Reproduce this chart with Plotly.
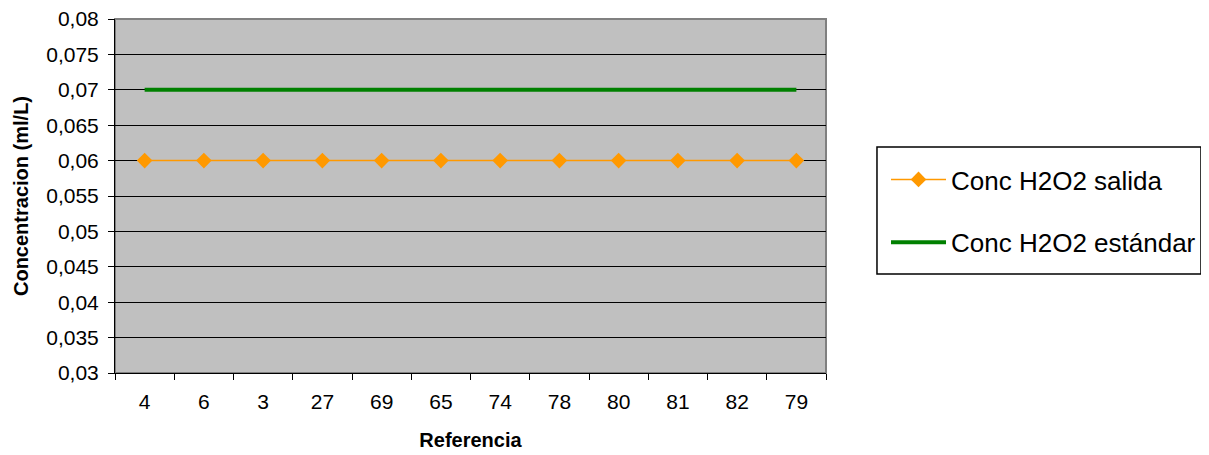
import plotly.graph_objects as go

# Data
referencias = ["4", "6", "3", "27", "69", "65", "74", "78", "80", "81", "82", "79"]
conc_salida = [0.06] * 12
conc_estandar = [0.07] * 12

y_ticks = [0.03, 0.035, 0.04, 0.045, 0.05, 0.055, 0.06, 0.065, 0.07, 0.075, 0.08]
y_labels = ["0,03", "0,035", "0,04", "0,045", "0,05", "0,055", "0,06", "0,065", "0,07", "0,075", "0,08"]

fig = go.Figure()

fig.add_trace(go.Scatter(
    x=referencias, y=conc_salida,
    mode="lines+markers",
    name="Conc H2O2 salida",
    line=dict(color="#FF9900", width=1.5),
    marker=dict(symbol="diamond", size=12, color="#FF9900"),
    legendgroup="a",
))

fig.add_trace(go.Scatter(
    x=referencias, y=conc_estandar,
    mode="lines",
    name="Conc H2O2 estándar",
    line=dict(color="#008000", width=4),
    legendgroup="b",
))

# page body has an 8px margin, so margins are shifted to compensate
fig.update_layout(
    width=1209, height=455,
    margin=dict(l=107, r=391, t=11, b=90, autoexpand=False),
    paper_bgcolor="white",
    plot_bgcolor="#C0C0C0",
    font=dict(family="Arial, Liberation Sans, sans-serif", color="black", size=21),
    showlegend=True,
    legend=dict(
        x=1.0844, y=0.613, xanchor="left", yanchor="top",
        bgcolor="rgba(0,0,0,0)", borderwidth=0,
        font=dict(size=26),
        traceorder="grouped", tracegroupgap=26,
        itemwidth=55,
    ),
    xaxis=dict(
        type="category",
        range=[-0.5, len(referencias) - 0.5],
        tickson="boundaries",
        ticks="outside", ticklen=6, tickcolor="black",
        ticklabelstandoff=10,
        showline=True, linecolor="black", linewidth=1,
        showgrid=False, zeroline=False,
        title=dict(text="<b>Referencia</b>", font=dict(size=20), standoff=20),
    ),
    yaxis=dict(
        range=[0.03, 0.08],
        tickvals=y_ticks, ticktext=y_labels,
        ticks="outside", ticklen=6, tickcolor="black",
        ticklabelstandoff=5,
        ticklabeloverflow="allow",
        showline=True, linecolor="black", linewidth=1,
        showgrid=True, gridcolor="black", gridwidth=1,
        zeroline=False,
        title=dict(text="<b>Concentracion (ml/L)</b>", font=dict(size=20), standoff=12),
    ),
)

# grey frame around the plot area (top and right edges)
fig.add_shape(type="rect", xref="paper", yref="paper", x0=0, y0=0, x1=1, y1=1,
              line=dict(color="#808080", width=2), layer="below")

# legend box
fig.add_shape(type="rect", xref="paper", yref="paper", x0=1.0717, y0=0.2797, x1=1.5274, y1=0.6384,
              line=dict(color="black", width=1.5), fillcolor="white", layer="below")

fig.write_html("out.html")
